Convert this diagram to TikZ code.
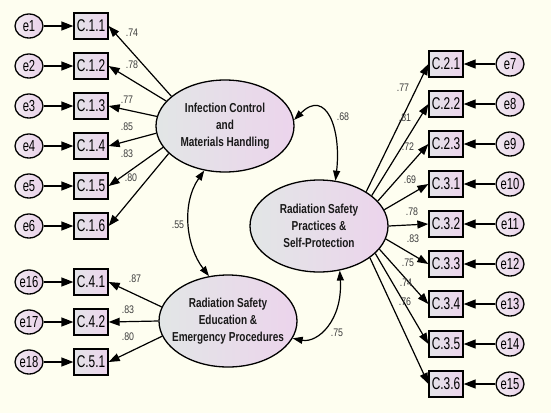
\documentclass[tikz,border=0pt]{standalone}
\usepackage{fontspec}
\usepackage{tikz}
\usetikzlibrary{arrows.meta}
\usetikzlibrary{shapes.geometric}

\newfontfamily\amosfont{Liberation Sans}[FakeStretch=0.7]
\newfontfamily\amoslatent{Liberation Sans}[FakeStretch=0.77]
\newfontfamily\amoscoef{Liberation Sans}[FakeStretch=0.8]

\definecolor{bgcream}{RGB}{254,254,240}
\definecolor{latleft}{RGB}{226,230,230}
\definecolor{latright}{RGB}{236,212,236}
\definecolor{boxleft}{RGB}{228,228,232}
\definecolor{boxright}{RGB}{236,212,236}
\definecolor{errleft}{RGB}{242,234,242}
\definecolor{errright}{RGB}{232,208,232}
\definecolor{coefgray}{RGB}{60,60,60}

\tikzset{
  latent/.style={ellipse, draw, line width=1.3pt, left color=latleft, right color=latright,
    minimum width=138pt, minimum height=92pt, inner xsep=-20pt, inner ysep=0pt,
    align=center, text=black!90, font=\amoslatent\bfseries\fontsize{13}{17}\selectfont},
  obsbox/.style={rectangle, draw, line width=1.3pt, left color=boxleft, right color=boxright,
    minimum width=34pt, minimum height=26pt, inner sep=0pt,
    font=\amosfont\fontsize{17}{17}\selectfont},
  errcirc/.style={ellipse, draw, line width=1.3pt, left color=errleft, right color=errright,
    minimum width=28pt, minimum height=24pt, inner sep=0pt,
    font=\amosfont\fontsize{16}{16}\selectfont},
  coef/.style={inner sep=0pt, text=coefgray, font=\amoscoef\fontsize{11}{11}\selectfont},
  load/.style={-{Triangle[length=11pt,width=8pt]}, line width=1.2pt},
  errarrow/.style={-{Triangle[length=12pt,width=9pt]}, line width=1.3pt},
  covarc/.style={{Triangle[length=10pt,width=7pt]}-{Triangle[length=10pt,width=7pt]}, line width=1.2pt}
}

\begin{document}
\begin{tikzpicture}[x=1pt,y=1pt,yscale=-1,xscale=1]
%Background
\fill[bgcream] (0,0) rectangle (551,413);
\useasboundingbox (0,0) rectangle (551,413);

%Shape: Latent ellipses
\node[latent] (ic) at (225,126) {Infection Control\\and\\Materials Handling};
\node[latent] (rs) at (319,226) {Radiation Safety\\Practices \&\\Self-Protection};
\node[latent] (ed) at (228,321) {Radiation Safety\\Education \&\\Emergency Procedures};

%Shape: Observed boxes, left
\node[obsbox] (c11) at (91,26) {C.1.1};
\node[obsbox] (c12) at (91,66) {C.1.2};
\node[obsbox] (c13) at (91,106) {C.1.3};
\node[obsbox] (c14) at (91,146) {C.1.4};
\node[obsbox] (c15) at (91,186) {C.1.5};
\node[obsbox] (c16) at (91,226) {C.1.6};
\node[obsbox] (c41) at (91,282) {C.4.1};
\node[obsbox] (c42) at (91,322) {C.4.2};
\node[obsbox] (c51) at (91,362) {C.5.1};

%Shape: Observed boxes, right
\node[obsbox] (c21) at (446,64) {C.2.1};
\node[obsbox] (c22) at (446,104) {C.2.2};
\node[obsbox] (c23) at (446,144) {C.2.3};
\node[obsbox] (c31) at (446,184) {C.3.1};
\node[obsbox] (c32) at (446,224) {C.3.2};
\node[obsbox] (c33) at (446,264) {C.3.3};
\node[obsbox] (c34) at (446,304) {C.3.4};
\node[obsbox] (c35) at (446,344) {C.3.5};
\node[obsbox] (c36) at (446,384) {C.3.6};

%Shape: Error circles, left
\node[errcirc] (e1) at (29,26) {e1};
\node[errcirc] (e2) at (29,66) {e2};
\node[errcirc] (e3) at (29,106) {e3};
\node[errcirc] (e4) at (29,146) {e4};
\node[errcirc] (e5) at (29,186) {e5};
\node[errcirc] (e6) at (29,226) {e6};
\node[errcirc] (e16) at (29,282) {e16};
\node[errcirc] (e17) at (29,322) {e17};
\node[errcirc] (e18) at (29,362) {e18};

%Shape: Error circles, right
\node[errcirc] (e7) at (510,64) {e7};
\node[errcirc] (e8) at (510,104) {e8};
\node[errcirc] (e9) at (510,144) {e9};
\node[errcirc] (e10) at (510,184) {e10};
\node[errcirc] (e11) at (510,224) {e11};
\node[errcirc] (e12) at (510,264) {e12};
\node[errcirc] (e13) at (510,304) {e13};
\node[errcirc] (e14) at (510,344) {e14};
\node[errcirc] (e15) at (510,384) {e15};

%Straight Lines: errors to indicators
\draw[errarrow] (e1) -- (c11);
\draw[errarrow] (e2) -- (c12);
\draw[errarrow] (e3) -- (c13);
\draw[errarrow] (e4) -- (c14);
\draw[errarrow] (e5) -- (c15);
\draw[errarrow] (e6) -- (c16);
\draw[errarrow] (e16) -- (c41);
\draw[errarrow] (e17) -- (c42);
\draw[errarrow] (e18) -- (c51);
\draw[errarrow] (e7) -- (c21);
\draw[errarrow] (e8) -- (c22);
\draw[errarrow] (e9) -- (c23);
\draw[errarrow] (e10) -- (c31);
\draw[errarrow] (e11) -- (c32);
\draw[errarrow] (e12) -- (c33);
\draw[errarrow] (e13) -- (c34);
\draw[errarrow] (e14) -- (c35);
\draw[errarrow] (e15) -- (c36);

%Straight Lines: loadings
\draw[load] (ic.151) -- (c11.east);
\draw[load] (ic.157) -- (c12.east);
\draw[load] (ic.172) -- (c13.east);
\draw[load] (ic.186) -- (c14.east);
\draw[load] (ic.199) -- (c15.east);
\draw[load] (ic.206) -- (c16.east);
\draw[load] (ed.168) -- (c41.east);
\draw[load] (ed.180) -- (c42.east);
\draw[load] (ed.193) -- (c51.east);
\draw[load] (rs.36) -- (c21.west);
\draw[load] (rs.30) -- (c22.west);
\draw[load] (rs.23) -- (c23.west);
\draw[load] (rs.14) -- (c31.west);
\draw[load] (rs.0) -- (c32.west);
\draw[load] (rs.349) -- (c33.west);
\draw[load] (rs.339) -- (c34.west);
\draw[load] (rs.334) -- (c35.west);
\draw[load] (rs.328) -- (c36.west);

%Curve Lines: covariances
\draw[covarc] (ic.5) .. controls +(32,-32) and +(6,-52) .. (rs.70);
\draw[covarc] (ic.245) .. controls +(-23,33) and +(-23,-30) .. (ed.113);
\draw[covarc] (ed.345) .. controls +(25,5) and +(3,50) .. (rs.295);

% Text Node: loadings, left
\node[coef] (k11) at (132,33) {.74};
\node[coef] (k12) at (132,65) {.78};
\node[coef] (k13) at (127,100) {.77};
\node[coef] (k14) at (127,127) {.85};
\node[coef] (k15) at (127,154) {.83};
\node[coef] (k16) at (131,178) {.80};
\node[coef] (k41) at (135,279) {.87};
\node[coef] (k42) at (128,310) {.83};
\node[coef] (k51) at (128,337) {.80};
% Text Node: loadings, right
\node[coef] (k21) at (403,88) {.77};
\node[coef] (k22) at (405,118) {.81};
\node[coef] (k23) at (408,147) {.72};
\node[coef] (k31) at (410,180) {.69};
\node[coef] (k32) at (412,212) {.78};
\node[coef] (k33) at (413,239) {.83};
\node[coef] (k34) at (408,263) {.75};
\node[coef] (k35) at (406,283) {.74};
\node[coef] (k36) at (405,302) {.76};
% Text Node: covariances
\node[coef] (r12) at (343,117) {.68};
\node[coef] (r13) at (178,225) {.55};
\node[coef] (r23) at (337,333) {.75};

\end{tikzpicture}
\end{document}
